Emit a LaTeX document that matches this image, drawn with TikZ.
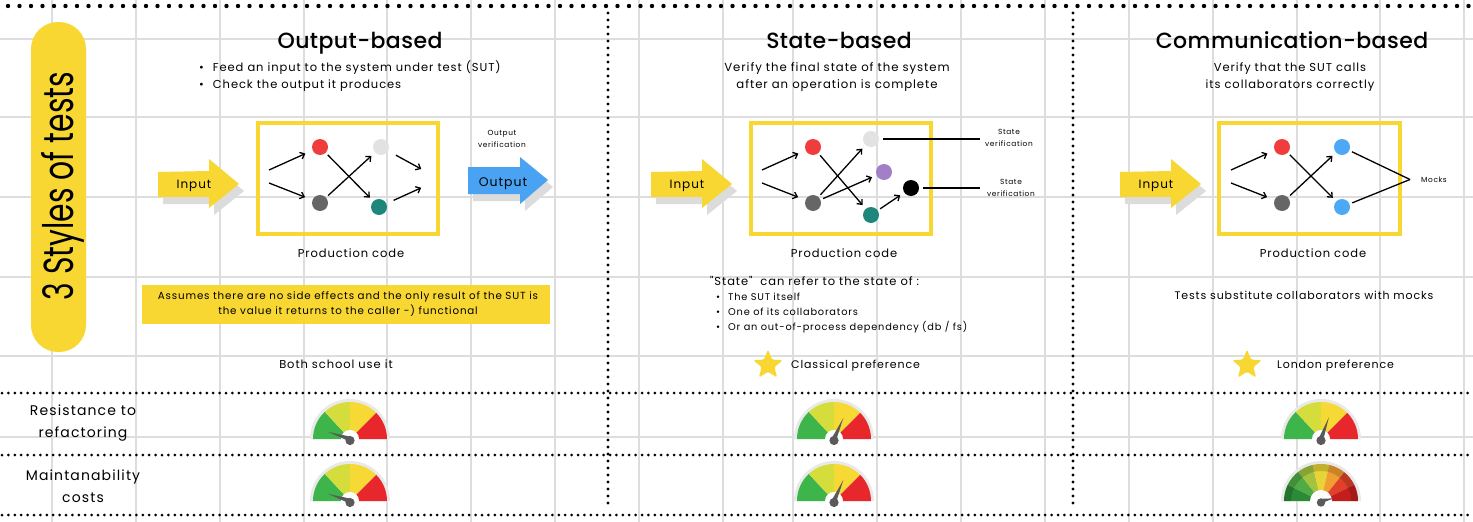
\documentclass[tikz,border=0pt]{standalone}
\usepackage{fontspec}
\setmainfont{Poppins}[LetterSpace=8]
\newfontfamily\ttlfont{Poppins}[UprightFont=* Medium,LetterSpace=2]
\newfontfamily\bigfont{Poppins}
\newfontfamily\qfont{Poppins}[LetterSpace=8]
\usetikzlibrary{arrows.meta,shapes.geometric,calc}
\definecolor{gridc}{HTML}{DDDDDD}
\definecolor{ylw}{HTML}{F8D732}
\definecolor{blu}{HTML}{4AA3F2}
\definecolor{nred}{HTML}{F03C3C}
\definecolor{nlg}{HTML}{E2E2E2}
\definecolor{ndg}{HTML}{666666}
\definecolor{nteal}{HTML}{1E877C}
\definecolor{npur}{HTML}{A47FC8}
\definecolor{nblue}{HTML}{4DA8F6}
\definecolor{gg}{HTML}{3DB54A}
\definecolor{glime}{HTML}{D5DD3C}
\definecolor{gyel}{HTML}{F6D935}
\definecolor{gred}{HTML}{E8272C}
\definecolor{gring}{HTML}{E9E9E9}
\definecolor{needlec}{HTML}{5A5A5A}
\definecolor{shad}{HTML}{DCDCDC}
\newcommand{\fsz}[1]{\fontsize{#1}{#1}\selectfont}
% plain gauge: centre x, centre y, needle angle
\newcommand{\gaugeplain}[3]{%
\begin{scope}[shift={(#1,#2)},yscale=-1]
\fill[gring] (-40,0) arc[start angle=180,end angle=0,radius=40] -- cycle;
\fill[gg] (0,0) -- (180:37) arc[start angle=180,end angle=133,radius=37] -- cycle;
\fill[glime] (0,0) -- (133:37) arc[start angle=133,end angle=90,radius=37] -- cycle;
\fill[gyel] (0,0) -- (90:37) arc[start angle=90,end angle=45,radius=37] -- cycle;
\fill[gred] (0,0) -- (45:37) arc[start angle=45,end angle=0,radius=37] -- cycle;
\fill[white] (0,0) circle[radius=9];
\fill[needlec] (#3:23) -- ({#3+90}:2.4) -- ({#3-90}:2.4) -- cycle;
\fill[needlec] (0,-1.5) circle[radius=4.6];
\end{scope}}
% shaded gauge
\newcommand{\gaugefancy}[3]{%
\begin{scope}[shift={(#1,#2)},yscale=-1]
\fill[gring] (-40,0) arc[start angle=180,end angle=0,radius=40] -- cycle;
\foreach \a/\b/\c in {180/154/2A8A36,154/128/4FAB43,128/103/A3C23E,103/77/E8D436,77/51/EE9F30,51/26/E2402A,26/0/C41E1C}{
  \definecolor{tmpc}{HTML}{\c}
  \fill[tmpc] (0,0) -- (\a:37) arc[start angle=\a,end angle=\b,radius=37] -- cycle;}
\fill[black,opacity=0.16,even odd rule] (-37,0) arc[start angle=180,end angle=0,radius=37] -- (30,0) arc[start angle=0,end angle=180,radius=30] -- cycle;
\fill[white] (0,0) circle[radius=11];
\fill[needlec] (#3:13) -- ({#3+90}:2.2) -- ({#3-90}:2.2) -- cycle;
\fill[needlec] (0,-1.5) circle[radius=4.2];
\end{scope}}
\begin{document}
\begin{tikzpicture}[x=1pt,y=-1pt,
  txt/.style={inner sep=0pt,anchor=base},
  ttl/.style={txt,font=\ttlfont\fsz{22}},
  bdy/.style={txt,font=\fsz{11.5}},
  itm/.style={inner sep=0pt,anchor=base west,font=\fsz{9.8}},
  sml/.style={inner sep=0pt,align=center,font=\fontsize{7.4}{12.5}\selectfont},
  lbl/.style={inner sep=0pt,align=center,font=\fontsize{14}{22}\selectfont},
  dot/.style={circle,minimum size=16pt,inner sep=0pt,outer sep=3pt},
  arr/.style={-{Straight Barb[length=4pt,width=7pt]},line width=1.3pt,shorten >=2pt},
  ln/.style={line width=1.3pt},
  gridln/.style={gridc,line width=1.5pt},
  bigdots/.style={line width=4.4pt,line cap=round,dash pattern=on 0pt off 11.5pt},
  rowdots/.style={line width=3pt,line cap=round,dash pattern=on 0pt off 6.4pt},
  coldots/.style={line width=3.2pt,line cap=round,dash pattern=on 0pt off 7pt},
  pbox/.style={draw=ylw,line width=3.2pt},
  starn/.style={star,star points=5,star point ratio=2.3,fill=ylw,minimum size=31pt,inner sep=0pt,rounded corners=1.5pt}
]
\useasboundingbox (0,0) rectangle (1473,522);
\fill[white] (0,0) rectangle (1473,522);
% grid
\foreach \gx in {52,136,220,304,387,471,555,639,723,793,877,961,1045,1129,1213,1297,1380,1464}
  \draw[gridln] (\gx,0) -- (\gx,522);
\foreach \gy in {39,117,197,277,356,437}
  \draw[gridln] (0,\gy) -- (1473,\gy);
% dotted separators
\draw[bigdots] (8,6) -- (1473,6);
\draw[rowdots] (2,393) -- (1473,393);
\draw[rowdots] (2,455) -- (1473,455);
\draw[rowdots] (2,515) -- (1473,515);
\draw[coldots] (608,13) -- (608,505);
\draw[coldots] (1073,13) -- (1073,505);
% title pill
\fill[ylw,rounded corners=27pt] (31,22) rectangle (86,352);
\node[inner sep=0pt,anchor=base,rotate=90] (maintitle) at (73.5,186) {\scalebox{0.71}[1]{\bigfont\fsz{42}3 Styles of tests}};

% ================= Output-based =================
\node[ttl] (t1) at (360,48) {Output-based};
\node[txt,anchor=base west,font=\fsz{11.5}] (b11) at (199,71) {•\hspace{9pt}Feed an input to the system under test (SUT)};
\node[txt,anchor=base west,font=\fsz{11.5}] (b12) at (199,88) {•\hspace{9pt}Check the output it produces};
% input arrow
\fill[shad] (163,179) -- (214,178) -- (214,166) -- (244,191) -- (214,215) -- (214,204) -- (163,204) -- cycle;
\fill[ylw] (158,172) -- (209,171) -- (209,159) -- (239,184) -- (209,208) -- (209,197) -- (158,197) -- cycle;
\node[txt,font=\fsz{12}] (in1) at (194,188.5) {Input};
% output arrow
\fill[shad] (473,174) -- (525,174) -- (525,164) -- (553,187) -- (525,211) -- (525,201) -- (473,201) -- cycle;
\fill[blu] (468,167) -- (520,167) -- (520,157) -- (548,180) -- (520,204) -- (520,194) -- (468,194) -- cycle;
\node[txt,font=\fsz{12.5}] (out1) at (503,186) {Output};
\node[sml] (ov) at (502,139) {Output\\verification};
% production box
\draw[pbox] (258,123) rectangle (438,234);
\node[bdy] (pc1) at (351,257) {Production code};
\node[dot,fill=nred] (ored) at (320,147) {};
\node[dot,fill=nlg] (olg) at (381,147) {};
\node[dot,fill=ndg] (odg) at (320,203) {};
\node[dot,fill=nteal] (oteal) at (379,207) {};
\coordinate (oi1) at (269,170); \coordinate (oi2) at (269,183);
\coordinate (oo1) at (423,170); \coordinate (oo2) at (423,187);
\draw[arr,shorten >=5pt] (oi1) -- (ored);
\draw[arr,shorten >=5pt] (oi2) -- (odg);
\draw[arr] (ored) -- (oteal);
\draw[arr] (odg) -- (olg);
\draw[arr,shorten <=6pt] (olg) -- (oo1);
\draw[arr,shorten <=5pt] (oteal) -- (oo2);
% note
\fill[ylw] (142,285) rectangle (550,324);
\node[inner sep=0pt,align=center,font=\fontsize{10.3}{15}\selectfont,anchor=base] (note) at (348,314.5) {Assumes there are no side effects and the only result of the SUT is\\the value it returns to the caller -) functional};
\node[bdy] (both) at (336,368) {Both school use it};

% ================= State-based =================
\node[ttl] (t2) at (839,48) {State-based};
\node[txt,font=\fsz{11.7}] (v21) at (837,71) {Verify the final state of the system};
\node[txt,font=\fsz{11.7}] (v22) at (837,88) {after an operation is complete};
\fill[shad] (656,179) -- (707,178) -- (707,166) -- (737,191) -- (707,215) -- (707,204) -- (656,204) -- cycle;
\fill[ylw] (651,172) -- (702,171) -- (702,159) -- (732,184) -- (702,208) -- (702,197) -- (651,197) -- cycle;
\node[txt,font=\fsz{12}] (in2) at (687,188.5) {Input};
\draw[pbox] (751,123) rectangle (931,234);
\node[bdy] (pc2) at (844,257) {Production code};
\node[dot,fill=nred] (sred) at (813,147) {};
\node[dot,fill=nlg] (slg) at (871,139) {};
\node[dot,fill=npur] (spur) at (884,172) {};
\node[dot,fill=black] (sblk) at (911,188) {};
\node[dot,fill=ndg] (sdg) at (813,203) {};
\node[dot,fill=nteal] (steal) at (871,215) {};
\coordinate (si1) at (762,170); \coordinate (si2) at (762,183);
\coordinate (sv1) at (980,139); \coordinate (sv2) at (980,188);
\draw[arr,shorten >=5pt] (si1) -- (sred);
\draw[arr,shorten >=5pt] (si2) -- (sdg);
\draw[arr] (sred) -- (steal);
\draw[arr] (sdg) -- (slg);
\draw[arr] (sdg) -- (spur);
\draw[arr] (steal) -- (sblk);
\draw[ln,shorten <=1pt] (slg) -- (sv1);
\draw[ln,shorten <=1pt] (sblk) -- (sv2);
\node[sml] (svl1) at (1009,138) {State\\verification};
\node[sml] (svl2) at (1011,188) {State\\verification};
\node[txt,anchor=base west,font=\qfont\fsz{11.5}] (sref) at (710,285) {"State"~ can refer to the state of :};
\node[itm] (s1) at (716,300) {•\hspace{8pt}The SUT itself};
\node[itm] (s2) at (716,315.5) {•\hspace{8pt}One of its collaborators};
\node[itm] (s3) at (716,330.5) {•\hspace{8pt}Or an out-of-process dependency (db / fs)};
\node[starn] (star1) at (768,365) {};
\node[txt,anchor=base west,font=\fsz{11}] (cls) at (791,368) {Classical preference};

% ================= Communication-based =================
\node[ttl] (t3) at (1292,48) {Communication-based};
\node[bdy] (v31) at (1290,71) {Verify that the SUT calls};
\node[bdy] (v32) at (1290,88) {its collaborators correctly};
\fill[shad] (1125,179) -- (1176,178) -- (1176,166) -- (1206,191) -- (1176,215) -- (1176,204) -- (1125,204) -- cycle;
\fill[ylw] (1120,172) -- (1171,171) -- (1171,159) -- (1201,184) -- (1171,208) -- (1171,197) -- (1120,197) -- cycle;
\node[txt,font=\fsz{12}] (in3) at (1156,188.5) {Input};
\draw[pbox] (1219,123) rectangle (1400,234);
\node[bdy] (pc3) at (1313,257) {Production code};
\node[dot,fill=nred] (cred) at (1282,147) {};
\node[dot,fill=ndg] (cdg) at (1282,203) {};
\node[dot,fill=nblue] (cb1) at (1342,147) {};
\node[dot,fill=nblue] (cb2) at (1342,207) {};
\coordinate (ci1) at (1231,170); \coordinate (ci2) at (1231,183);
\coordinate (mk) at (1410,179.5);
\draw[arr,shorten >=5pt] (ci1) -- (cred);
\draw[arr,shorten >=5pt] (ci2) -- (cdg);
\draw[arr] (cred) -- (cb2);
\draw[arr] (cdg) -- (cb1);
\draw[ln] (cb1) -- (mk);
\draw[ln] (cb2) -- (mk);
\node[sml,anchor=west] (mocks) at (1421,180) {Mocks};
\node[txt,font=\fsz{11}] (tsub) at (1304,299.5) {Tests substitute collaborators with mocks};
\node[starn] (star2) at (1247,365) {};
\node[txt,anchor=base west,font=\fsz{11}] (lon) at (1277,368) {London preference};

% ================= bottom rows =================
\node[lbl,anchor=base] (r1) at (83,437) {Resistance to\\refactoring};
\node[lbl,anchor=base] (r2) at (83,502) {Maintanability\\costs};
\gaugeplain{350}{439}{162}
\gaugeplain{834}{439}{66}
\gaugeplain{1321}{439}{70}
\gaugeplain{350}{501}{162}
\gaugeplain{834}{501}{66}
\gaugefancy{1321}{501}{12}
\end{tikzpicture}
\end{document}
